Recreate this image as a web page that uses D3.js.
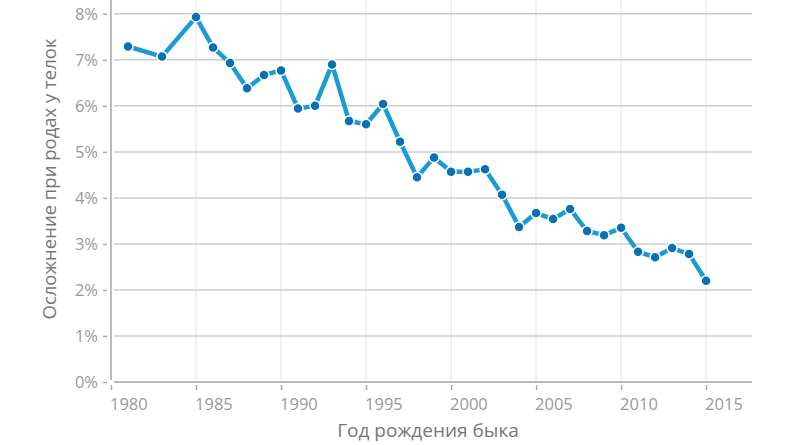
<!DOCTYPE html>
<html>
<head>
<meta charset="utf-8">
<script src="https://cdn.jsdelivr.net/npm/d3@7"></script>
<style>
  body { margin: 0; background: #fff; }
  svg { display: block; font-family: "Open Sans", sans-serif; }
</style>
</head>
<body>
<div id="chart"></div>
<script>
// birth year of the bull
var years = [1981, 1983, 1985, 1986, 1987, 1988, 1989, 1990, 1991, 1992,
  1993, 1994, 1995, 1996, 1997, 1998, 1999, 2000, 2001, 2002, 2003, 2004,
  2005, 2006, 2007, 2008, 2009, 2010, 2011, 2012, 2013, 2014, 2015];
// calving difficulty in heifers, %
var values = [7.29, 7.07, 7.93, 7.27, 6.93, 6.38, 6.67, 6.77, 5.94, 6.00,
  6.90, 5.67, 5.60, 6.04, 5.22, 4.45, 4.88, 4.57, 4.57, 4.62, 4.07, 3.37,
  3.67, 3.54, 3.76, 3.28, 3.19, 3.35, 2.83, 2.71, 2.91, 2.78, 2.20];
var xTicks = [1980, 1985, 1990, 1995, 2000, 2005, 2010, 2015];
var yTicks = [0, 1, 2, 3, 4, 5, 6, 7, 8];

var W = 795, H = 445;
var left = 111, right = 752, bottom = 382;

var data = years.map(function (d, i) { return { year: d, value: values[i] }; });

var svg = d3.select('#chart').append('svg')
  .attr('width', W)
  .attr('height', H);

var x = d3.scaleLinear().domain([1980, 2017.7]).range([left, right]);
var y = d3.scaleLinear().domain([0, 8.3]).range([bottom, 0]);

// vertical grid
svg.append('g')
  .selectAll('line')
  .data(xTicks.slice(1))
  .enter().append('line')
  .attr('x1', function (d) { return x(d); })
  .attr('x2', function (d) { return x(d); })
  .attr('y1', 0)
  .attr('y2', bottom - 2)
  .attr('stroke', '#ececec')
  .attr('stroke-width', 1.5);

// horizontal grid
svg.append('g')
  .selectAll('line')
  .data(yTicks.slice(1))
  .enter().append('line')
  .attr('x1', left + 3)
  .attr('x2', right)
  .attr('y1', function (d) { return y(d); })
  .attr('y2', function (d) { return y(d); })
  .attr('stroke', '#cccccc')
  .attr('stroke-width', 1.5);

// axis lines
svg.append('line')
  .attr('x1', left).attr('x2', left)
  .attr('y1', 0).attr('y2', bottom - 2)
  .attr('stroke', '#bbbbbb').attr('stroke-width', 2);
svg.append('line')
  .attr('x1', left + 3).attr('x2', right)
  .attr('y1', bottom).attr('y2', bottom)
  .attr('stroke', '#bbbbbb').attr('stroke-width', 2);

// y axis ticks and labels
var yAxis = svg.append('g')
  .attr('transform', 'translate(107,0)')
  .call(d3.axisLeft(y).tickValues(yTicks).tickSize(4).tickPadding(5)
    .tickFormat(function (d) { return d + '%'; }));
yAxis.select('.domain').remove();
yAxis.selectAll('line').attr('stroke', '#aaaaaa').attr('stroke-width', 1.5);
yAxis.selectAll('text')
  .attr('fill', '#999999')
  .style('font-size', '16.5px')
  .style('font-family', '"Open Sans", sans-serif');

// x axis ticks and labels
var xAxis = svg.append('g')
  .attr('transform', 'translate(0,385)')
  .call(d3.axisBottom(x).tickValues(xTicks).tickSize(5).tickFormat(d3.format('d')));
xAxis.select('.domain').remove();
xAxis.selectAll('line').attr('stroke', '#aaaaaa').attr('stroke-width', 1.5);
xAxis.selectAll('text')
  .attr('fill', '#999999')
  .attr('text-anchor', 'start')
  .attr('x', -1.5)
  .attr('y', 25)
  .attr('dy', 0)
  .style('font-size', '16.5px')
  .style('font-family', '"Open Sans", sans-serif');

// axis titles
svg.append('text')
  .attr('x', 428)
  .attr('y', 437)
  .attr('text-anchor', 'middle')
  .attr('fill', '#777777')
  .style('font-size', '19px')
  .text('Год рождения быка');

svg.append('text')
  .attr('transform', 'translate(56,179) rotate(-90)')
  .attr('text-anchor', 'middle')
  .attr('fill', '#777777')
  .style('font-size', '18.5px')
  .text('Осложнение при родах у телок');

// the line
var line = d3.line()
  .x(function (d) { return x(d.year); })
  .y(function (d) { return y(d.value); });

svg.append('path')
  .datum(data)
  .attr('d', line)
  .attr('fill', 'none')
  .attr('stroke', '#1a9bd5')
  .attr('stroke-width', 4.5)
  .attr('stroke-linejoin', 'round');

svg.append('g')
  .selectAll('circle')
  .data(data)
  .enter().append('circle')
  .attr('cx', function (d) { return x(d.year); })
  .attr('cy', function (d) { return y(d.value); })
  .attr('r', 5)
  .attr('fill', '#0a70b4')
  .attr('stroke', '#ffffff')
  .attr('stroke-width', 1.5);
</script>
</body>
</html>
